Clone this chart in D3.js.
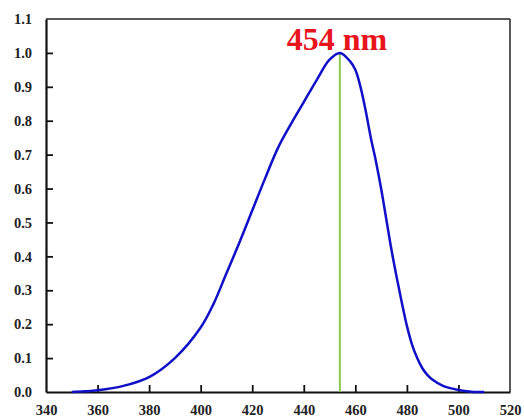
<!DOCTYPE html>
<html>
<head>
    <meta charset="utf-8">
    <script src="https://cdn.jsdelivr.net/npm/d3@7"></script>
    <style>
        body { margin: 0; background: #fff; }
        .tick text { font-family: "Liberation Serif", "Times New Roman", serif; font-weight: bold; font-size: 14.5px; fill: #222; }
    </style>
</head>
<body>
    <div id="chart"></div>
    <script>
        var width = 524;
        var height = 417;

        // spectrum (wavelength nm, normalized intensity)
        var wavelength = [350, 355, 360, 370, 380, 390, 400, 405, 410, 415, 420, 425, 430, 435, 440, 445, 450, 454,
            458, 460, 462, 464, 466, 468, 470, 472, 474, 476, 478, 480, 482, 484, 486, 488, 490, 494, 500, 505, 510];
        var intensity = [0, 0.002, 0.005, 0.018, 0.044, 0.1, 0.19, 0.26, 0.35, 0.44, 0.535, 0.63, 0.72, 0.79, 0.855, 0.92, 0.98, 1.0,
            0.975, 0.95, 0.9, 0.83, 0.75, 0.68, 0.6, 0.51, 0.42, 0.34, 0.265, 0.195, 0.14, 0.1, 0.07, 0.05, 0.036, 0.018, 0.006, 0.001, 0];
        var xTicks = [340, 360, 380, 400, 420, 440, 460, 480, 500, 520];
        var yTicks = [0.0, 0.1, 0.2, 0.3, 0.4, 0.5, 0.6, 0.7, 0.8, 0.9, 1.0, 1.1];
        var peakX = 454;
        var peakY = 1.0;
        var peakLabel = "454 nm";

        var plotLeft = 46, plotRight = 510, plotTop = 19, plotBottom = 392;

        var svg = d3.select("#chart").append("svg")
            .attr("width", width)
            .attr("height", height);

        var x = d3.scaleLinear().domain([340, 520]).range([plotLeft, plotRight]);
        var y = d3.scaleLinear().domain([0, 1.1]).range([plotBottom, plotTop]);

        //------------------------------ frame
        svg.append("line")
            .attr("x1", plotLeft).attr("x2", plotRight).attr("y1", plotTop).attr("y2", plotTop)
            .attr("stroke", "#222").attr("stroke-width", 1.5);
        svg.append("line")
            .attr("x1", plotRight).attr("x2", plotRight).attr("y1", plotTop).attr("y2", plotBottom)
            .attr("stroke", "#222").attr("stroke-width", 1.5);

        //------------------------------ axes (ticks pointing inward)
        var xAxis = d3.axisBottom(x)
            .tickValues(xTicks)
            .tickSizeInner(-7)
            .tickSizeOuter(0)
            .tickPadding(13)
            .tickFormat(d3.format("d"));

        var yAxis = d3.axisLeft(y)
            .tickValues(yTicks)
            .tickSizeInner(-7)
            .tickSizeOuter(0)
            .tickPadding(14)
            .tickFormat(d3.format(".1f"));

        var gx = svg.append("g")
            .attr("transform", "translate(0," + plotBottom + ")")
            .call(xAxis);
        var gy = svg.append("g")
            .attr("transform", "translate(" + plotLeft + ",0)")
            .call(yAxis);

        [gx, gy].forEach(function (g) {
            g.select(".domain").attr("stroke", "#111").attr("stroke-width", 2.2);
            g.selectAll(".tick line").attr("stroke", "#111").attr("stroke-width", 1.8);
        });
        // no tick marks at the corners
        gx.selectAll(".tick line").filter(function (d) { return d === 340 || d === 520; }).remove();
        gy.selectAll(".tick line").filter(function (d) { return d === 0 || d === 1.1; }).remove();

        //------------------------------ peak marker
        svg.append("line")
            .attr("x1", x(peakX)).attr("x2", x(peakX))
            .attr("y1", y(0)).attr("y2", y(peakY))
            .attr("stroke", "#8cc850")
            .attr("stroke-width", 2);

        //------------------------------ spectrum
        var data = wavelength.map(function (w, i) { return { w: w, v: intensity[i] }; });

        var line = d3.line()
            .curve(d3.curveCatmullRom.alpha(0.5))
            .x(function (d) { return x(d.w); })
            .y(function (d) { return y(d.v); });

        svg.append("path")
            .attr("d", line(data))
            .attr("fill", "none")
            .attr("stroke", "#1010c8")
            .attr("stroke-width", 2.5);

        svg.append("text")
            .attr("x", x(peakX) - 3)
            .attr("y", 50)
            .attr("text-anchor", "middle")
            .attr("font-family", "Liberation Serif, Times New Roman, serif")
            .attr("font-weight", "bold")
            .attr("font-size", 32)
            .attr("fill", "#e8141c")
            .text(peakLabel);
    </script>
</body>
</html>
